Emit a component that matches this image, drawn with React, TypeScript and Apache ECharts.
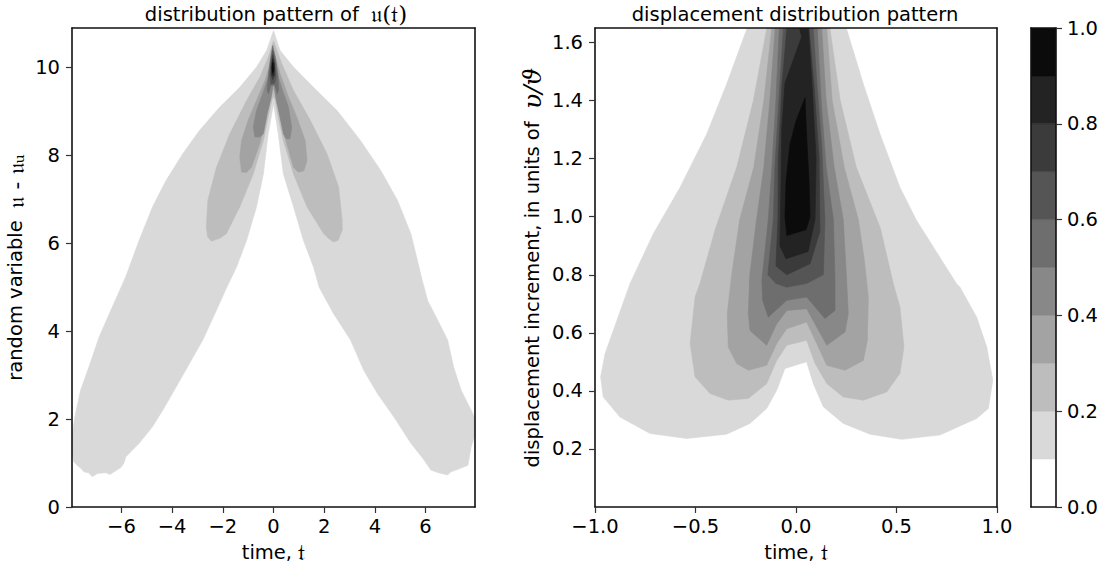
import React, { useEffect, useRef } from "react";
import * as echarts from "echarts";

// ---------- ticks / levels ----------
const LEFT_X_TICKS = [-6, -4, -2, 0, 2, 4, 6];
const LEFT_Y_TICKS = [0, 2, 4, 6, 8, 10];
const RIGHT_X_TICKS = [-1, -0.5, 0, 0.5, 1];
const RIGHT_Y_TICKS = [0.2, 0.4, 0.6, 0.8, 1.0, 1.2, 1.4, 1.6];
const CBAR_TICKS = [0, 0.2, 0.4, 0.6, 0.8, 1.0];
const CBAR_LEVELS = [0, 0.1, 0.2, 0.3, 0.4, 0.5, 0.6, 0.7, 0.8, 0.9, 1.0];
const CBAR_COLORS = ["#ffffff", "#d9d9d9", "#bdbdbd", "#a3a3a3", "#888888", "#6e6e6e", "#555555", "#3b3b3b", "#232323", "#0b0b0b"];
// fill colour of the superlevel set {value >= 0.1}, {>= 0.2}, ...
const LEVEL_COLORS = CBAR_COLORS.slice(1);

// ---------- left panel: contour outlines (time t, value u - u_u) ----------
const LEFT_GE_01 = [
  [0, 10.84], [-0.27, 10.39], [-0.67, 10.01], [-1.33, 9.55], [-2.12, 9.1], [-2.92, 8.57], [-3.58, 8.04],
  [-4.24, 7.43], [-4.77, 6.83], [-5.3, 6.07], [-5.83, 5.24], [-6.36, 4.55], [-6.88, 3.87], [-7.28, 3.19],
  [-7.61, 2.66], [-7.81, 2.13], [-7.94, 1.67], [-8.1, 1.62], [-8.1, 1.28], [-7.93, 1.2], [-7.88, 1.03],
  [-7.75, 0.95], [-7.6, 0.88], [-7.48, 0.8], [-7.3, 0.78], [-7.15, 0.69], [-6.95, 0.76], [-6.62, 0.78],
  [-6.45, 0.74], [-6.29, 0.8], [-6.02, 0.9], [-5.9, 1.0], [-5.83, 1.14], [-5.3, 1.45], [-4.77, 1.83],
  [-4.37, 2.2], [-3.91, 2.66], [-3.31, 3.27], [-2.79, 3.8], [-2.25, 4.48], [-1.86, 4.98], [-1.46, 5.46],
  [-1.06, 6.07], [-0.67, 6.83], [-0.4, 7.58], [-0.21, 8.49], [0, 9.17], [0.19, 8.49], [0.39, 7.58],
  [0.79, 6.83], [1.18, 6.07], [1.58, 5.46], [1.8, 5.0], [2.37, 4.4], [3.04, 3.8], [3.56, 3.11],
  [4.1, 2.58], [4.75, 2.05], [5.42, 1.45], [5.9, 1.1], [6.21, 0.84], [6.5, 0.78], [6.87, 0.73],
  [7.0, 0.8], [7.2, 0.84], [7.45, 0.9], [7.67, 0.95], [7.8, 1.37], [7.93, 1.6], [8.1, 1.62],
  [8.1, 1.83], [7.86, 2.13], [7.4, 2.66], [7.1, 3.2], [6.87, 3.8], [6.48, 4.25], [6.08, 4.7],
  [5.85, 5.2], [5.42, 6.22], [4.89, 6.98], [4.23, 7.66], [3.43, 8.34], [2.51, 9.02], [1.58, 9.55],
  [0.79, 10.01], [0.26, 10.39],
];
const LEFT_GE_02 = [
  [0, 10.61], [-0.21, 10.23], [-0.54, 9.78], [-1.06, 9.25], [-1.73, 8.49], [-2.25, 7.73], [-2.59, 6.98],
  [-2.65, 6.37], [-2.6, 6.15], [-2.45, 6.05], [-2.3, 6.08], [-2.1, 6.12], [-1.86, 6.22], [-1.33, 6.83],
  [-0.8, 7.58], [-0.4, 8.34], [-0.21, 8.87], [-0.07, 9.25], [0, 9.35], [0.07, 9.25], [0.19, 8.87],
  [0.39, 8.34], [0.79, 7.58], [1.32, 6.83], [1.98, 6.22], [2.2, 6.1], [2.37, 6.03], [2.55, 6.07],
  [2.71, 6.3], [2.71, 6.52], [2.57, 7.28], [2.11, 8.04], [1.45, 8.8], [0.79, 9.48], [0.33, 10.08],
];
const LEFT_GE_03 = [
  [0, 10.39], [-0.14, 10.08], [-0.34, 9.7], [-0.67, 9.25], [-1.0, 8.8], [-1.26, 8.34], [-1.33, 7.96],
  [-1.26, 7.62], [-1.05, 7.62], [-0.87, 7.73], [-0.54, 8.27], [-0.34, 8.72], [-0.17, 9.17], [0, 9.55],
  [0.14, 9.17], [0.33, 8.72], [0.52, 8.27], [0.79, 7.73], [0.98, 7.62], [1.2, 7.65], [1.32, 7.89],
  [1.25, 8.34], [0.92, 8.87], [0.59, 9.33], [0.26, 9.86], [0.1, 10.2],
];
const LEFT_GE_04 = [
  [0, 10.1], [-0.21, 9.78], [-0.43, 9.4], [-0.67, 9.02], [-0.8, 8.64], [-0.73, 8.42], [-0.55, 8.42],
  [-0.4, 8.49], [-0.25, 8.95], [-0.1, 9.3], [0, 9.7], [0.1, 9.3], [0.23, 8.95], [0.39, 8.49],
  [0.5, 8.38], [0.65, 8.38], [0.72, 8.64], [0.59, 9.1], [0.36, 9.48], [0.15, 9.86],
];
const LEFT_GE_05 = [
  [-0.03, 10.5], [-0.12, 10.2], [-0.2, 9.85], [-0.25, 9.5], [-0.2, 9.4], [-0.1, 9.6], [0.05, 9.6],
  [0.15, 9.4], [0.2, 9.5], [0.17, 9.85], [0.08, 10.2],
];
const LEFT_GE_06 = [[-0.03, 10.38], [-0.1, 10.1], [-0.14, 9.8], [-0.1, 9.62], [0.05, 9.65], [0.1, 9.8], [0.06, 10.1]];
const LEFT_GE_07 = [[-0.03, 10.28], [-0.08, 10.05], [-0.1, 9.85], [-0.03, 9.72], [0.05, 9.85], [0.04, 10.05]];
const LEFT_GE_08 = [[-0.03, 10.2], [-0.07, 10.0], [-0.05, 9.85], [0.0, 9.8], [0.03, 9.95], [0.02, 10.1]];
const LEFT_GE_09 = [[-0.03, 10.12], [-0.055, 9.98], [-0.03, 9.88], [0.01, 9.95]];

// ---------- right panel: contour outlines (time t, displacement increment) ----------
const RIGHT_GE_01 = [
  [-0.26, 1.7], [-0.245, 1.646], [-0.345, 1.457], [-0.444, 1.285], [-0.577, 1.101], [-0.71, 0.941],
  [-0.826, 0.769], [-0.909, 0.608], [-0.95, 0.528], [-0.972, 0.448], [-0.959, 0.379], [-0.876, 0.31],
  [-0.726, 0.253], [-0.544, 0.236], [-0.345, 0.251], [-0.229, 0.288], [-0.146, 0.339], [-0.096, 0.402],
  [-0.055, 0.477], [0.053, 0.5], [0.086, 0.425], [0.136, 0.345], [0.235, 0.288], [0.368, 0.251],
  [0.526, 0.233], [0.716, 0.248], [0.899, 0.305], [0.957, 0.339], [0.979, 0.437], [0.949, 0.551],
  [0.899, 0.654], [0.816, 0.757], [0.799, 0.769], [0.6, 0.987], [0.517, 1.101], [0.418, 1.285],
  [0.335, 1.457], [0.252, 1.646], [0.26, 1.7],
];
const RIGHT_GE_02 = [
  [-0.15, 1.7], [-0.146, 1.646], [-0.212, 1.4], [-0.295, 1.17], [-0.4, 0.96], [-0.478, 0.77],
  [-0.502, 0.723], [-0.527, 0.563], [-0.502, 0.448], [-0.428, 0.391], [-0.337, 0.368], [-0.237, 0.374],
  [-0.146, 0.425], [-0.096, 0.505], [-0.046, 0.557], [0.053, 0.574], [0.095, 0.494], [0.153, 0.425],
  [0.235, 0.379], [0.335, 0.368], [0.451, 0.396], [0.517, 0.46], [0.537, 0.551], [0.517, 0.689],
  [0.484, 0.769], [0.42, 0.96], [0.3, 1.17], [0.22, 1.4], [0.169, 1.646], [0.17, 1.7],
];
const RIGHT_GE_03 = [
  [-0.125, 1.7], [-0.121, 1.646], [-0.16, 1.4], [-0.21, 1.17], [-0.28, 0.99], [-0.32, 0.8],
  [-0.342, 0.666], [-0.337, 0.551], [-0.295, 0.494], [-0.237, 0.471], [-0.146, 0.488], [-0.096, 0.563],
  [-0.046, 0.614], [0.053, 0.637], [0.103, 0.563], [0.153, 0.488], [0.244, 0.471], [0.335, 0.505],
  [0.355, 0.574], [0.36, 0.723], [0.34, 0.85], [0.31, 0.99], [0.24, 1.17], [0.18, 1.4], [0.153, 1.646],
  [0.155, 1.7],
];
const RIGHT_GE_04 = [
  [-0.105, 1.7], [-0.104, 1.646], [-0.13, 1.4], [-0.16, 1.17], [-0.196, 0.99], [-0.23, 0.8],
  [-0.237, 0.666], [-0.229, 0.608], [-0.146, 0.557], [-0.096, 0.631], [-0.046, 0.677], [0.053, 0.683],
  [0.103, 0.62], [0.153, 0.557], [0.244, 0.603], [0.26, 0.666], [0.252, 0.78], [0.235, 0.99],
  [0.19, 1.17], [0.15, 1.4], [0.128, 1.646], [0.13, 1.7],
];
const RIGHT_GE_05 = [
  [-0.084, 1.7], [-0.083, 1.646], [-0.1, 1.4], [-0.12, 1.17], [-0.138, 0.99], [-0.17, 0.78],
  [-0.166, 0.712], [-0.138, 0.654], [-0.046, 0.712], [0.053, 0.723], [0.144, 0.649], [0.194, 0.677],
  [0.194, 0.78], [0.186, 0.99], [0.15, 1.17], [0.125, 1.4], [0.106, 1.646], [0.107, 1.7],
];
const RIGHT_GE_06 = [
  [-0.064, 1.7], [-0.063, 1.646], [-0.085, 1.4], [-0.105, 1.17], [-0.113, 0.99], [-0.14, 0.8],
  [-0.1, 0.77], [-0.046, 0.757], [0.053, 0.77], [0.136, 0.8], [0.144, 0.99], [0.128, 1.243],
  [0.105, 1.45], [0.086, 1.646], [0.087, 1.7],
];
const RIGHT_GE_07 = [
  [-0.047, 1.7], [-0.046, 1.646], [-0.07, 1.45], [-0.088, 1.2], [-0.09, 0.99], [-0.1, 0.83],
  [-0.046, 0.8], [0.07, 0.838], [0.119, 0.95], [0.115, 1.2], [0.09, 1.45], [0.065, 1.646], [0.066, 1.7],
];
const RIGHT_GE_08 = [
  [0.0, 1.7], [0.028, 1.62], [-0.055, 1.46], [-0.071, 1.3], [-0.075, 1.1], [-0.08, 0.9], [-0.05, 0.855],
  [0.06, 0.88], [0.095, 0.99], [0.1, 1.2], [0.08, 1.45], [0.062, 1.646], [0.063, 1.7],
];
const RIGHT_GE_09 = [
  [0.045, 1.41], [0.053, 1.28], [0.065, 1.12], [0.07, 1.0], [0.05, 0.955], [-0.046, 0.935],
  [-0.055, 1.0], [-0.05, 1.12], [-0.03, 1.25], [0.0, 1.33],
];

const LEFT_POLYS = [LEFT_GE_01, LEFT_GE_02, LEFT_GE_03, LEFT_GE_04, LEFT_GE_05, LEFT_GE_06, LEFT_GE_07, LEFT_GE_08, LEFT_GE_09];
const RIGHT_POLYS = [RIGHT_GE_01, RIGHT_GE_02, RIGHT_GE_03, RIGHT_GE_04, RIGHT_GE_05, RIGHT_GE_06, RIGHT_GE_07, RIGHT_GE_08, RIGHT_GE_09];

// ---------- styling ----------
const FONT = "DejaVu Sans";
const FS = 19.5;
const AX = "#111111";
const MATH = { fontFamily: "DejaVu Serif", fontSize: 23, color: "#000" };
const MATH_IT = { fontFamily: "DejaVu Serif", fontStyle: "italic", fontSize: 25, color: "#000" };

const fmtNum = (d: number) => (v: number) => (v < 0 ? "\u2212" : "") + Math.abs(v).toFixed(d);

function labelAxis(gridIndex: number, position: string, min: number, max: number, ticks: number[], fmt: (v: number) => string, margin: number, extra: any = {}) {
  return {
    type: "value", gridIndex, position, min, max, z: 10,
    axisLine: { show: true, onZero: false, lineStyle: { color: AX, width: 1.6 } },
    axisTick: { show: true, inside: false, length: 6, customValues: ticks, lineStyle: { color: "#333", width: 1.2 } },
    axisLabel: { show: true, customValues: ticks, formatter: fmt, fontFamily: FONT, fontSize: FS, color: "#000", margin },
    splitLine: { show: false },
    ...extra,
  };
}
function frameAxis(gridIndex: number, position: string, min: number, max: number) {
  return {
    type: "value", gridIndex, position, min, max, z: 10,
    axisLine: { show: true, onZero: false, lineStyle: { color: AX, width: 1.6 } },
    axisTick: { show: false }, axisLabel: { show: false }, splitLine: { show: false },
  };
}

// axisIndex refers to the labelled (bottom / left) axes of a grid
function contourSeries(axisIndex: number, polys: number[][][]) {
  return {
    type: "custom", coordinateSystem: "cartesian2d", xAxisIndex: axisIndex, yAxisIndex: axisIndex,
    clip: true, silent: true, z: 2,
    data: polys.map((_, i) => [i]),
    renderItem: (params: any, api: any) => {
      const i = params.dataIndex;
      const pts = polys[i].map((p) => api.coord(p));
      return { type: "polygon", shape: { points: pts }, style: { fill: LEVEL_COLORS[i], stroke: LEVEL_COLORS[i], lineWidth: 0.6 } };
    },
  };
}

const timeName = {
  name: "time, {m|\u{1D531}}", nameLocation: "middle", nameGap: 30,
  nameTextStyle: { fontFamily: FONT, fontSize: FS, color: "#000", rich: { m: MATH } },
};

export default function App() {
  const ref = useRef<HTMLDivElement>(null);
  useEffect(() => {
    if (!ref.current) return;
    const chart = echarts.init(ref.current, null, { renderer: "svg" });
    const cbarData = CBAR_COLORS.map((c, i) => [CBAR_LEVELS[i], CBAR_LEVELS[i + 1], i]);
    chart.setOption({
      animation: false,
      backgroundColor: "#ffffff",
      grid: [
        { left: 72, top: 28, width: 403, height: 479 },
        { left: 595, top: 28, width: 402, height: 479 },
        { left: 1031, top: 28, width: 25, height: 479 },
      ],
      xAxis: [
        labelAxis(0, "bottom", -7.95, 7.95, LEFT_X_TICKS, fmtNum(0), 9, timeName),
        frameAxis(0, "top", -7.95, 7.95),
        labelAxis(1, "bottom", -1, 1, RIGHT_X_TICKS, fmtNum(1), 9, timeName),
        frameAxis(1, "top", -1, 1),
        frameAxis(2, "bottom", 0, 1),
        frameAxis(2, "top", 0, 1),
      ],
      yAxis: [
        labelAxis(0, "left", 0, 10.9, LEFT_Y_TICKS, fmtNum(0), 12, {
          name: "random variable  {m|\u{1D532} - \u{1D532}\u1D64}", nameLocation: "middle", nameGap: 45,
          nameTextStyle: { fontFamily: FONT, fontSize: FS, color: "#000", rich: { m: MATH } },
        }),
        frameAxis(0, "right", 0, 10.9),
        labelAxis(1, "left", 0, 1.65, RIGHT_Y_TICKS, fmtNum(1), 12, {
          name: "displacement increment, in units of  {m|\u03C5/\u03D1}", nameLocation: "middle", nameGap: 50,
          nameTextStyle: { fontFamily: FONT, fontSize: FS, color: "#000", rich: { m: MATH_IT } },
        }),
        frameAxis(1, "right", 0, 1.65),
        labelAxis(2, "right", 0, 1, CBAR_TICKS, fmtNum(1), 11),
        frameAxis(2, "left", 0, 1),
      ],
      graphic: [
        {
          type: "text", x: 276, y: 14, z: 20,
          style: {
            text: "distribution pattern of  {m|\u{1D532}(\u{1D531})}", font: `${FS}px "${FONT}"`, fill: "#000",
            textAlign: "center", textVerticalAlign: "middle",
            rich: { m: { fontFamily: "DejaVu Serif", fontSize: 23, fill: "#000" } },
          },
        },
        { type: "text", x: 795, y: 14, z: 20, style: { text: "displacement distribution pattern", font: `${FS}px "${FONT}"`, fill: "#000", textAlign: "center", textVerticalAlign: "middle" } },
      ],
      series: [
        contourSeries(0, LEFT_POLYS),
        contourSeries(2, RIGHT_POLYS),
        {
          type: "custom", coordinateSystem: "cartesian2d", xAxisIndex: 4, yAxisIndex: 4, silent: true, clip: true,
          data: cbarData,
          renderItem: (params: any, api: any) => {
            const lo = api.value(0), hi = api.value(1), ci = api.value(2);
            const p0 = api.coord([0, hi]);
            const p1 = api.coord([1, lo]);
            return { type: "rect", shape: { x: p0[0], y: p0[1], width: p1[0] - p0[0], height: p1[1] - p0[1] }, style: { fill: CBAR_COLORS[ci], stroke: CBAR_COLORS[ci], lineWidth: 0.5 } };
          },
        },
      ],
    });
    return () => chart.dispose();
  }, []);
  return <div ref={ref} style={{ position: "fixed", left: 0, top: 0, width: 1107, height: 570, background: "#fff" }} />;
}
